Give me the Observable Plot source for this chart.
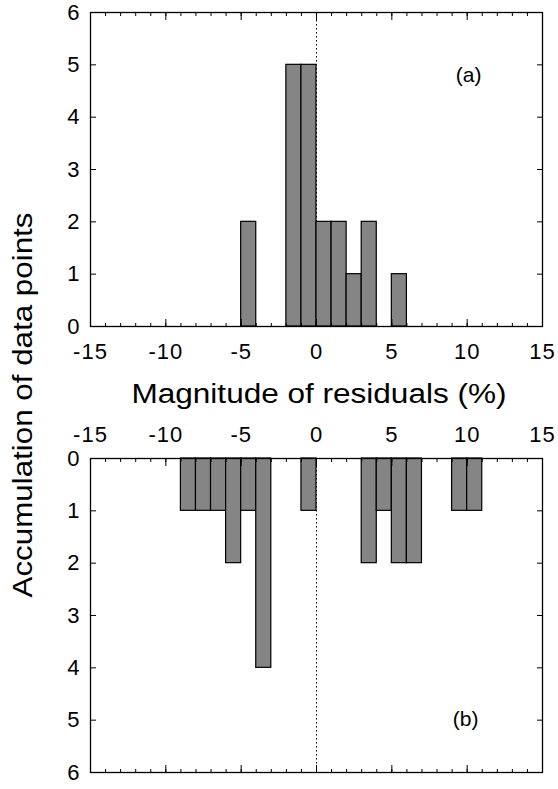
<!DOCTYPE html>
<html>
<head>
<meta charset="utf-8">
<script src="https://cdn.jsdelivr.net/npm/d3@7"></script>
<script src="https://cdn.jsdelivr.net/npm/@observablehq/plot@0.6"></script>
<style>
  body { margin: 0; background: #fff; }
  #wrap { position: relative; width: 558px; height: 789px; font-family: "Liberation Sans", Arial, Helvetica, sans-serif; background: #fff; }
  #top, #bot { position: absolute; left: 0; }
  #top { top: 0; }
  #bot { top: 420px; }
  #overlay { position: absolute; left: 0; top: 0; pointer-events: none; }
  #wrap svg g[aria-label="x-axis tick label"] text { letter-spacing: 1px; }
</style>
</head>
<body>
<div id="wrap">
  <div id="top"></div>
  <div id="bot"></div>
  <svg id="overlay" width="558" height="789" font-family="'Liberation Sans', Arial, Helvetica, sans-serif">
    <text id="xtitle" x="319" y="403" text-anchor="middle" font-size="27" textLength="375" lengthAdjust="spacingAndGlyphs" fill="black">Magnitude of residuals (%)</text>
    <text id="ytitle" transform="translate(32,405) rotate(-90)" text-anchor="middle" font-size="27" textLength="385" lengthAdjust="spacingAndGlyphs" fill="black">Accumulation of data points</text>
  </svg>
</div>
<script>
// ---- data (bins of width 1 %, left edges) ----
const topBinStart = [-5, -2, -1, 0, 1, 2, 3, 5];
const topCounts   = [ 2,  5,  5, 2, 2, 1, 2, 1];

const bottomBinStart = [-9, -8, -7, -6, -5, -4, -1, 3, 4, 5, 6, 9, 10];
const bottomCounts   = [ 1,  1,  1,  2,  1,  4,  1, 2, 1, 2, 2, 1,  1];

const binWidth = 1;
const xMajorTicks = [-15, -10, -5, 0, 5, 10, 15];
const xMinorTicks = [-15,-14,-13,-12,-11,-10,-9,-8,-7,-6,-5,-4,-3,-2,-1,0,1,2,3,4,5,6,7,8,9,10,11,12,13,14,15];
const yTicks = [0, 1, 2, 3, 4, 5, 6];
const panelLabels = ["(a)", "(b)"];

const topData = topBinStart.map((s, i) => ({x1: s, x2: s + binWidth, count: topCounts[i]}));
const bottomData = bottomBinStart.map((s, i) => ({x1: s, x2: s + binWidth, count: bottomCounts[i]}));

const fmt = d => String(d);
const barFill = "#858585";
const font = "'Liberation Sans', Arial, Helvetica, sans-serif";

function frameAxes(xLabelAnchor, xLabelPadding) {
  return [
    Plot.frame({stroke: "black", strokeWidth: 1.3}),
    Plot.axisX(xMinorTicks, {anchor: "bottom", tickSize: -3, fill: "none", label: null}),
    Plot.axisX(xMajorTicks, {anchor: "bottom", tickSize: -7, fill: "none", label: null}),
    Plot.axisX(xMinorTicks, {anchor: "top", tickSize: -3, fill: "none", label: null}),
    Plot.axisX(xMajorTicks, {anchor: "top", tickSize: -7, fill: "none", label: null}),
    Plot.axisX(xMajorTicks, {anchor: xLabelAnchor, tickSize: 0, tickPadding: xLabelPadding, tickFormat: fmt, label: null, fontSize: 22}),
    Plot.axisY(yTicks, {anchor: "left", tickSize: -6, fill: "none", label: null}),
    Plot.axisY(yTicks, {anchor: "right", tickSize: -6, fill: "none", label: null}),
    Plot.axisY(yTicks, {anchor: "left", tickSize: 0, tickPadding: 11, tickFormat: fmt, label: null, fontSize: 22})
  ];
}

const topPlot = Plot.plot({
  width: 558, height: 420,
  marginLeft: 90, marginRight: 16, marginTop: 12, marginBottom: 94,
  x: {domain: [-15, 15], label: null},
  y: {domain: [0, 6], label: null},
  style: {fontFamily: font, fontSize: "22px", color: "black", background: "white"},
  marks: [
    Plot.ruleX([0], {stroke: "black", strokeWidth: 1, strokeDasharray: "1.5,2.5"}),
    Plot.rectY(topData, {x1: "x1", x2: "x2", y: "count", fill: barFill, stroke: "black", strokeWidth: 1.2}),
    ...frameAxes("bottom", 17),
    Plot.text([panelLabels[0]], {frameAnchor: "top-right", dx: -61, dy: 63, textAnchor: "end", lineAnchor: "middle", fontSize: 21})
  ]
});

const bottomPlot = Plot.plot({
  width: 558, height: 369,
  marginLeft: 90, marginRight: 16, marginTop: 38, marginBottom: 17,
  x: {domain: [-15, 15], label: null},
  y: {domain: [0, 6], reverse: true, label: null},
  style: {fontFamily: font, fontSize: "22px", color: "black", background: "white"},
  marks: [
    Plot.ruleX([0], {stroke: "black", strokeWidth: 1, strokeDasharray: "1.5,2.5"}),
    Plot.rectY(bottomData, {x1: "x1", x2: "x2", y: "count", fill: barFill, stroke: "black", strokeWidth: 1.2}),
    ...frameAxes("top", 17),
    Plot.text([panelLabels[1]], {frameAnchor: "bottom-right", dx: -64, dy: -53, textAnchor: "end", lineAnchor: "middle", fontSize: 21})
  ]
});

document.getElementById("top").appendChild(topPlot);
document.getElementById("bot").appendChild(bottomPlot);
</script>
</body>
</html>
